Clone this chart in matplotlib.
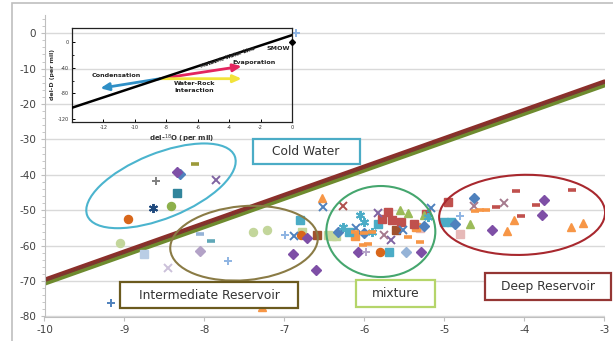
import matplotlib.pyplot as plt
from matplotlib.patches import Ellipse, Rectangle
from matplotlib.transforms import ScaledTranslation, offset_copy

plt.rcParams["axes.unicode_minus"] = False

# del-18O (x) / del-D (y) samples, one pair of lists per plotted series
dia_purple_x = [-8.34, -6.72, -6.89, -6.61, -6.08, -5.29, -4.40, -3.75, -3.78]
dia_purple_y = [-39.2, -57.8, -62.3, -67.0, -61.8, -61.8, -55.5, -47.0, -51.4]
dia_blue_x = [-8.31, -6.33, -6.00, -5.26, -4.87, -4.63]
dia_blue_y = [-39.9, -56.1, -56.5, -54.4, -53.8, -46.5]
dia_ltblue_x = [-5.48]
dia_ltblue_y = [-61.8]
dia_lavender_x = [-8.05]
dia_lavender_y = [-61.5]

sq_darkteal_x = [-8.34]
sq_darkteal_y = [-45.0]
sq_teal_x = [-6.81, -6.19, -5.83, -5.69, -5.00, -4.92]
sq_teal_y = [-52.8, -56.1, -53.8, -61.8, -53.3, -53.3]
sq_red_x = [-5.78, -5.71, -5.65, -5.54, -5.38, -5.23, -4.95]
sq_red_y = [-52.5, -50.5, -52.8, -53.3, -53.8, -51.0, -47.8]
sq_brown_x = [-6.59, -5.60]
sq_brown_y = [-57.1, -55.5]
sq_ltblue_x = [-8.76]
sq_ltblue_y = [-62.3]
sq_pink_x = [-5.30, -4.80]
sq_pink_y = [-55.0, -56.6]
sq_ltgreen_x = [-6.78, -6.46, -6.40, -6.35]
sq_ltgreen_y = [-56.1, -57.1, -57.2, -57.3]
sq_orange_x = [-6.12, -5.35]
sq_orange_y = [-57.2, -54.7]

tri_green_x = [-5.56, -5.46, -5.25, -4.68]
tri_green_y = [-50.0, -50.9, -51.4, -53.8]
tri_orange_x = [-7.28, -6.53, -4.22, -4.13, -3.42, -3.27]
tri_orange_y = [-77.3, -46.4, -55.8, -52.8, -54.7, -53.5]

dot_green_x = [-8.42]
dot_green_y = [-48.8]
dot_orange_x = [-8.95, -6.79, -5.81]
dot_orange_y = [-52.4, -57.1, -61.8]
dot_ltgreen_x = [-9.06, -7.39, -7.22]
dot_ltgreen_y = [-59.2, -56.1, -55.5]

x_blue_x = [-6.88, -6.52, -6.10, -5.52, -5.17]
x_blue_y = [-57.3, -49.1, -55.0, -55.6, -49.5]
x_purple_x = [-7.86, -5.83, -5.67]
x_purple_y = [-41.5, -50.9, -58.5]
x_red_x = [-6.27]
x_red_y = [-48.9]
x_mauve_x = [-5.75, -4.63, -4.25]
x_mauve_y = [-57.1, -48.8, -47.9]
x_lavender_x = [-8.46]
x_lavender_y = [-66.2]

star_navy_x = [-8.64]
star_navy_y = [-49.5]
star_cyan_x = [-6.27, -6.05, -6.00, -5.90, -5.20]
star_cyan_y = [-54.7, -51.4, -53.3, -56.0, -52.0]

plus_gray_x = [-8.60]
plus_gray_y = [-41.7]
plus_blue_x = [-9.17]
plus_blue_y = [-76.1]
plus_ltblue_x = [-7.70, -6.99, -6.85, -4.80]
plus_ltblue_y = [-64.2, -57.1, 0.0, -51.7]
plus_lavender_x = [-5.98]
plus_lavender_y = [-61.8]

dash_olive_x = [-8.12]
dash_olive_y = [-36.8]
dash_ltblue_x = [-8.05]
dash_ltblue_y = [-56.6]
dash_teal_x = [-7.92]
dash_teal_y = [-58.8]
dash_red_x = [-4.36, -4.10, -4.04, -3.85, -3.40]
dash_red_y = [-49.1, -44.6, -51.7, -48.6, -44.2]
dash_orange_x = [-6.12, -6.02, -6.00, -5.96, -5.91, -5.46, -5.31, -4.62, -4.55, -4.48]
dash_orange_y = [-56.1, -59.9, -56.3, -59.6, -56.0, -57.5, -59.0, -50.3, -50.0, -49.8]

# meteoric water line end points
mwl_x = [-10, -3]
mwl_y = [-70, -14]

# schematic inset: meteoric water line and process arrows
ins_mwl_x = [-14, 0]
ins_mwl_y = [-102, 10]
arrow_start = (-8.4, -57.2)
evap_end = (-3.2, -38.0)
rock_end = (-3.2, -57.2)
cond_end = (-12.2, -72.0)

series = [
    (dia_lavender_x, dia_lavender_y, "D", "#B3A2C7", 5.5),
    (dia_ltblue_x, dia_ltblue_y, "D", "#95B3D7", 5.5),
    (sq_ltblue_x, sq_ltblue_y, "s", "#B9CDE5", 5.2),
    (sq_pink_x, sq_pink_y, "s", "#E6B9B8", 5.2),
    (sq_ltgreen_x, sq_ltgreen_y, "s", "#C3D69B", 5.2),
    (dot_ltgreen_x, dot_ltgreen_y, "o", "#C3D69B", 5.8),
    (sq_orange_x, sq_orange_y, "s", "#F79646", 5.2),
    (sq_brown_x, sq_brown_y, "s", "#A0522D", 5.2),
    (sq_teal_x, sq_teal_y, "s", "#4BACC6", 5.2),
    (sq_darkteal_x, sq_darkteal_y, "s", "#31859C", 5.2),
    (sq_red_x, sq_red_y, "s", "#C0504D", 5.2),
    (tri_green_x, tri_green_y, "^", "#9BBB59", 5.8),
    (tri_orange_x, tri_orange_y, "^", "#F79646", 5.8),
    (dot_green_x, dot_green_y, "o", "#8DB04B", 5.8),
    (dot_orange_x, dot_orange_y, "o", "#D8661A", 5.8),
    (dia_blue_x, dia_blue_y, "D", "#4F81BD", 5.5),
    (dia_purple_x, dia_purple_y, "D", "#7E4FA6", 5.5),
]
line_series = [
    (x_blue_x, x_blue_y, "x", "#4F81BD", 5.8),
    (x_purple_x, x_purple_y, "x", "#8064A2", 5.8),
    (x_red_x, x_red_y, "x", "#B0504D", 5.8),
    (x_mauve_x, x_mauve_y, "x", "#A57B8E", 5.8),
    (x_lavender_x, x_lavender_y, "x", "#CCC1DA", 5.8),
    (star_navy_x, star_navy_y, (6, 2, 0), "#1F497D", 6.5),
    (star_cyan_x, star_cyan_y, (6, 2, 0), "#4BACC6", 6.5),
    (plus_gray_x, plus_gray_y, "+", "#7F7F7F", 6),
    (plus_blue_x, plus_blue_y, "+", "#4F81BD", 6),
    (plus_ltblue_x, plus_ltblue_y, "+", "#8EB4E3", 6),
    (plus_lavender_x, plus_lavender_y, "+", "#B3A2C7", 6),
]
dash_series = [
    (dash_olive_x, dash_olive_y, "#9C9A3A"),
    (dash_ltblue_x, dash_ltblue_y, "#95B3D7"),
    (dash_teal_x, dash_teal_y, "#5FA8B8"),
    (dash_red_x, dash_red_y, "#C0504D"),
    (dash_orange_x, dash_orange_y, "#F79646"),
]

W, H = 613, 341
fig = plt.figure(figsize=(W / 100, H / 100), dpi=100)
ax = fig.add_axes([44.5 / W, 1 - 316.5 / H, 560 / W, 301 / H])
ax.set_xlim(-10, -3)
ax.set_ylim(-80, 5)

for s in ["top", "right"]:
    ax.spines[s].set_visible(False)
for s in ["left", "bottom"]:
    ax.spines[s].set_color("#BFBFBF")
ax.set_yticks(range(-80, 1, 10))
ax.set_yticks(range(-80, 5, 2), minor=True)
ax.set_xticks(range(-10, -2))
ax.tick_params(axis="both", labelsize=7.5, labelcolor="#404040", color="#BFBFBF", length=3, pad=3)
ax.tick_params(axis="y", which="minor", length=2, color="#BFBFBF")
ax.grid(axis="y", color="#D9D9D9", lw=1)
ax.set_axisbelow(True)

# meteoric water line (olive underside, brown top)
ax.plot(mwl_x, mwl_y, color="#6E8B2F", lw=4.5, solid_capstyle="round",
        transform=offset_copy(ax.transData, fig, y=-1.5, units="dots"), zorder=2)
ax.plot(mwl_x, mwl_y, color="#8B2F2A", lw=3.2, solid_capstyle="round",
        transform=offset_copy(ax.transData, fig, y=1.2, units="dots"), zorder=2)
ax.plot(mwl_x, mwl_y, color="#5E4A3A", lw=0.8, ls=(0, (1, 1)), zorder=2)

for xs, ys, mk, c, ms in series:
    ax.plot(xs, ys, ls="none", marker=mk, ms=ms, color=c, mec=c, zorder=3)
for xs, ys, mk, c, ms in line_series:
    ax.plot(xs, ys, ls="none", marker=mk, ms=ms, color=c, mew=1.4, zorder=3, clip_on=False)
for xs, ys, c in dash_series:
    ax.plot(xs, ys, ls="none", marker="_", ms=6, color=c, mew=2.6, zorder=3)


def at_point(x, y):
    return fig.dpi_scale_trans + ScaledTranslation(x, y, ax.transData)


def ring(x, y, w, h, angle, color):
    ax.add_patch(Ellipse((0, 0), w / 100, h / 100, angle=angle, transform=at_point(x, y),
                         fill=False, ec=color, lw=1.5, zorder=4))


def tag(x, y, w, h, text, color):
    ax.add_patch(Rectangle((-w / 200, -h / 200), w / 100, h / 100, transform=at_point(x, y),
                           fc="white", ec=color, lw=1.6, zorder=5, clip_on=False))
    ax.text(x, y, text, ha="center", va="center", fontsize=8.8, color="#333333",
            zorder=6, clip_on=False)


ring(-8.544, -43.1, 159, 65, 22, "#4BB4CE")
ring(-7.506, -59.3, 148, 74, 5, "#8A7B45")
ring(-5.796, -56.0, 109, 91, 0, "#45A66E")
ring(-4.03, -51.3, 166, 80, 2, "#A8282E")

tag(-6.73, -33.5, 107, 25, "Cold Water", "#4BACC6")
tag(-7.94, -74.0, 178, 26, "Intermediate Reservoir", "#6B5A1E")
tag(-5.61, -73.6, 79, 27, "mixture", "#B5D56A")
tag(-3.71, -71.6, 126, 27, "Deep Reservoir", "#943634")

# schematic of isotope processes
ins = fig.add_axes([72 / W, 1 - 122 / H, 220 / W, 94 / H])
ins.set_facecolor("none")
ins.set_xlim(-14, 0)
ins.set_ylim(-124, 21)
for s in ins.spines.values():
    s.set_color("#222222")
    s.set_linewidth(0.9)
ins.set_xticks(range(-12, 1, 2))
ins.set_yticks([-120, -80, -40, 0])
ins.set_yticks([-100, -60, -20], minor=True)
ins.tick_params(direction="in", labelsize=3.5, length=2.5, width=0.7, pad=2, labelcolor="#333333")
ins.tick_params(which="minor", direction="in", length=1.5, width=0.6)
ins.set_xlabel("del-$^{18}$O (per mil)", fontsize=5, fontweight="bold", labelpad=2, color="#333333")
ins.set_ylabel("del-D (per mil)", fontsize=4.5, fontweight="bold", labelpad=2, color="#333333")

ins.plot(ins_mwl_x, ins_mwl_y, color="black", lw=1.8, zorder=3)
ins.plot([0], [0], marker="D", ms=3, color="black", zorder=4, clip_on=False)
arrow = dict(arrowstyle="-|>,head_length=0.5,head_width=0.22", lw=2, shrinkA=0, shrinkB=0)
ins.annotate("", xy=evap_end, xytext=arrow_start, arrowprops=dict(arrow, color="#E3245F"), zorder=2)
ins.annotate("", xy=rock_end, xytext=arrow_start, arrowprops=dict(arrow, color="#F2E33A"), zorder=2)
ins.annotate("", xy=cond_end, xytext=arrow_start, arrowprops=dict(arrow, color="#2F8FC6"), zorder=2)

small = dict(fontsize=4.6, fontweight="bold", color="#222222")
ins.text(-11.2, -52.8, "Condensation", ha="center", va="center", **small)
ins.text(-2.4, -32.3, "Evaporation", ha="center", va="center", **small)
ins.text(-7.5, -65, "Water-Rock", ha="left", va="center", **small)
ins.text(-7.5, -75, "Interaction", ha="left", va="center", **small)
ins.text(-0.1, -10, "SMOW", ha="right", va="center", **small)
ins.text(-4.1, -24.5, "Meteoric Water Line", ha="center", va="center", rotation=18.6,
         fontsize=3.6, fontweight="bold", color="#222222")

# light frame around the whole chart
fig.add_artist(Rectangle((12 / W, -0.02), 1, 1 - 3 / H + 0.02, transform=fig.transFigure,
                         fill=False, ec="#BFBFBF", lw=1.2))

fig.savefig("out.png", dpi=100)
